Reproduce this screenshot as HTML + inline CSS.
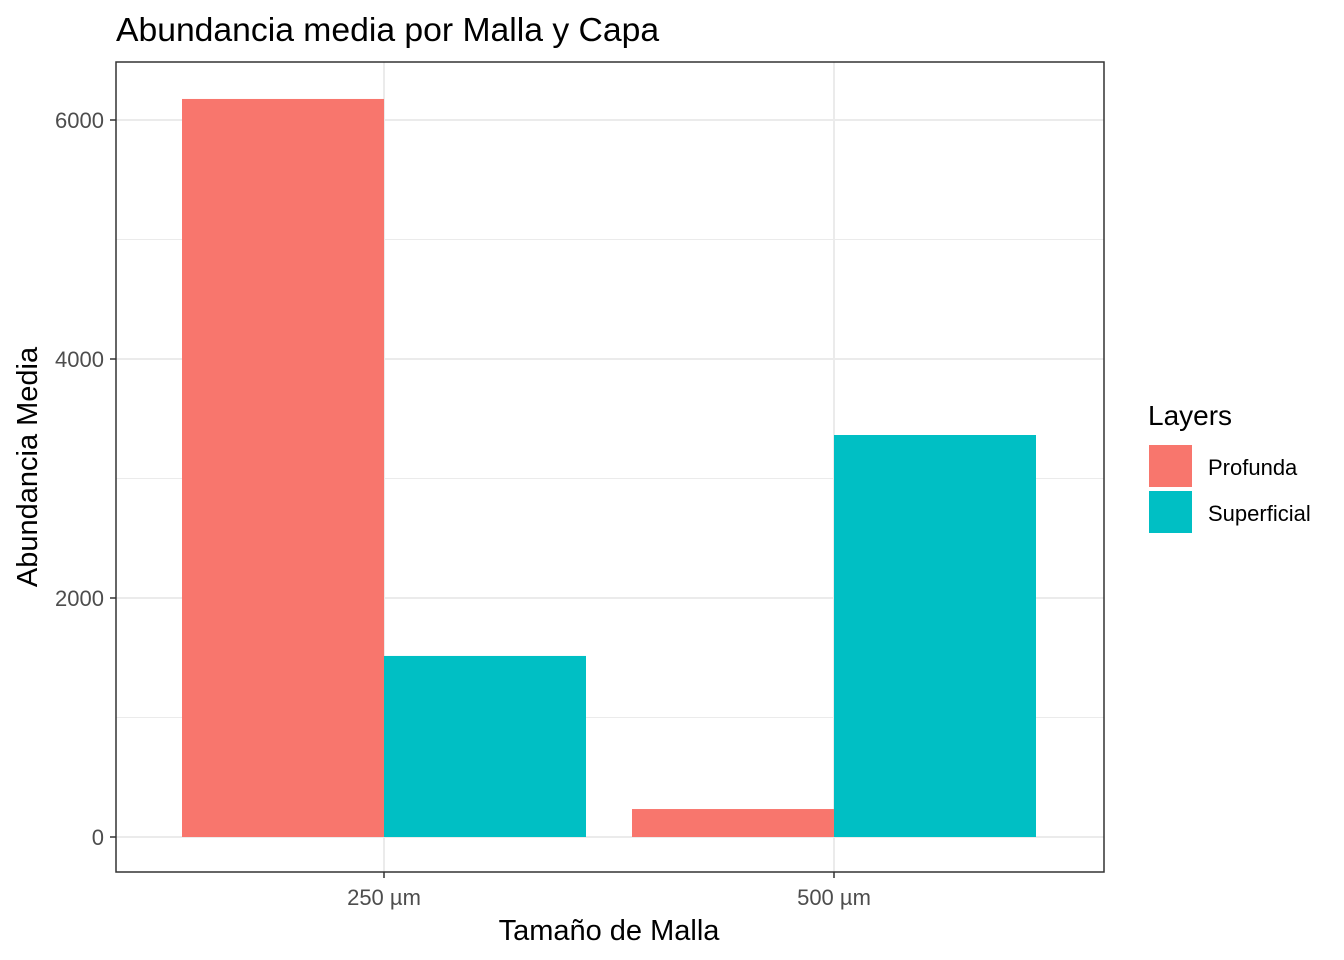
<!DOCTYPE html>
<html><head><meta charset="utf-8"><style>
body{margin:0;background:#fff;}
svg{display:block;font-family:"Liberation Sans",sans-serif;}
</style></head><body>
<svg id="chart" width="1344" height="960">
<text x="116" y="41" font-size="33.7" fill="#000">Abundancia media por Malla y Capa</text>
<g id="grid"></g>
<g id="bars"></g>
<rect x="116" y="62" width="988" height="810" fill="none" stroke="#333" stroke-width="1.5"/>
<g id="axes"></g>
<text x="609" y="940" font-size="29" text-anchor="middle" fill="#000">Tamaño de Malla</text>
<text transform="translate(37,467) rotate(-90)" font-size="29" text-anchor="middle" fill="#000">Abundancia Media</text>
<g id="legend">
<text x="1148" y="425" font-size="28" fill="#000">Layers</text>
</g>
</svg>
<script>
const categories=["250 µm","500 µm"];
const seriesNames=["Profunda","Superficial"];
const profunda=[6176,234];
const superficial=[1515,3364];
const yTicks=[0,2000,4000,6000];
const colors=["#F8766D","#00BFC4"];
const NS="http://www.w3.org/2000/svg";
const px0=116,px1=1104,py0=62,py1=872;
function y(v){return 837-v*(837-120)/6000;}
function xc(i){return 384+i*450;}
const bw=202;
function mk(tag,attrs,parent){const e=document.createElementNS(NS,tag);for(const k in attrs)e.setAttribute(k,attrs[k]);parent.appendChild(e);return e;}
const grid=document.getElementById('grid'),bars=document.getElementById('bars'),axes=document.getElementById('axes'),legend=document.getElementById('legend');
mk('rect',{x:px0,y:py0,width:px1-px0,height:py1-py0,fill:'#fff'},grid);
for(let i=0;i<yTicks.length-1;i++){const m=(yTicks[i]+yTicks[i+1])/2;
 const l=mk('line',{x1:px0,x2:px1,y1:y(m),y2:y(m),stroke:'#ebebeb','stroke-width':1},grid);
 
 }
yTicks.forEach(t=>{const l=mk('line',{x1:px0,x2:px1,y1:y(t),y2:y(t),stroke:'#ebebeb','stroke-width':2},grid);
 
 
 const tk=mk('line',{x1:px0-6,x2:px0,y1:y(t),y2:y(t),stroke:'#333','stroke-width':1.5},axes);
 
 
 const tx=mk('text',{x:px0-12,y:y(t)+8,'font-size':22,'text-anchor':'end',fill:'#4d4d4d'},axes);tx.textContent=t;
 
 });
categories.forEach((c,i)=>{const l=mk('line',{x1:xc(i),x2:xc(i),y1:py0,y2:py1,stroke:'#ebebeb','stroke-width':2},grid);
 
 
 const tk=mk('line',{x1:xc(i),x2:xc(i),y1:py1,y2:py1+6,stroke:'#333','stroke-width':1.5},axes);
 
 
 const tx=mk('text',{x:xc(i),y:905,'font-size':22,'text-anchor':'middle',fill:'#4d4d4d'},axes);tx.textContent=c;
 
 
 [profunda,superficial].forEach((s,j)=>{const x=xc(i)+(j===0?-bw:0);
  const r=mk('rect',{x:x,y:y(s[i]),width:bw,height:y(0)-y(s[i]),fill:colors[j]},bars);
  
  });});
seriesNames.forEach((n,j)=>{const r=mk('rect',{x:1149,y:445+j*46,width:43,height:42,fill:colors[j]},legend);
 
 
 const t=mk('text',{x:1208,y:475+j*46,'font-size':22,fill:'#000'},legend);t.textContent=n;
 
 });
</script>
</body></html>
